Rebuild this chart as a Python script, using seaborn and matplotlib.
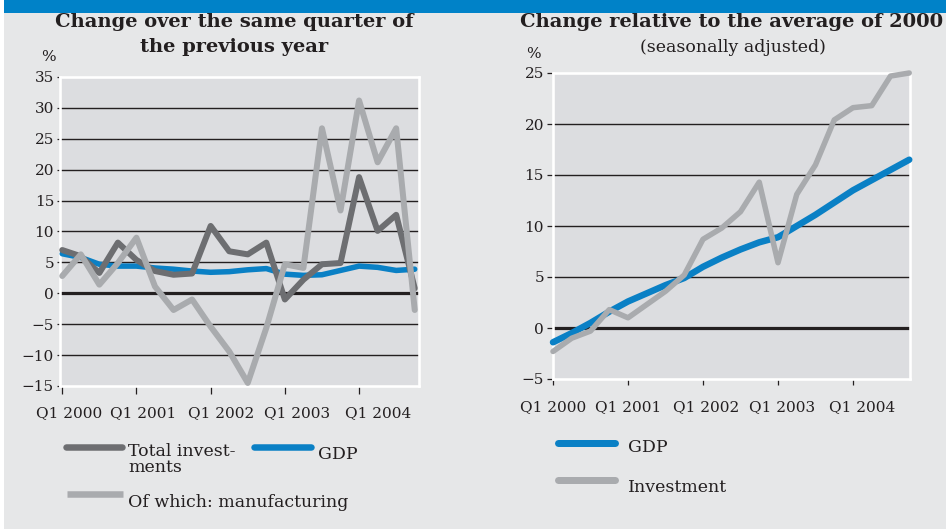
import numpy as np
import pandas as pd
import matplotlib
matplotlib.use("Agg")
import matplotlib.pyplot as plt
import matplotlib.transforms as mtransforms
from matplotlib.lines import Line2D
from matplotlib.patches import Rectangle
import seaborn as sns

# ---- data -------------------------------------------------------------
quarters = list(range(20))          # Q1 2000 ... Q4 2004
year_ticks = [0, 4, 8, 12, 16]
year_labels = ["Q1 2000", "Q1 2001", "Q1 2002", "Q1 2003", "Q1 2004"]

# year-on-year change, %
total_investments = [7.0, 6.0, 3.3, 8.2, 5.4, 3.6, 3.0, 3.2, 10.9, 6.8, 6.3, 8.2,
                     -1.0, 2.2, 4.7, 4.9, 18.8, 10.1, 12.7, 0.8]
manufacturing = [2.8, 6.3, 1.4, 4.9, 9.0, 1.1, -2.7, -1.0, -5.4, -9.4, -14.5, -5.6,
                 4.7, 4.1, 26.7, 13.4, 31.2, 21.2, 26.7, -2.7]
gdp_yoy = [6.4, 5.8, 4.7, 4.4, 4.4, 4.1, 3.9, 3.6, 3.4, 3.5, 3.8, 4.0,
           3.1, 2.9, 3.0, 3.7, 4.4, 4.2, 3.7, 3.9]

# change relative to the 2000 average, seasonally adjusted, %
gdp_level = [-1.4, -0.5, 0.5, 1.6, 2.6, 3.4, 4.2, 4.9, 6.0, 6.9, 7.7, 8.4,
             8.9, 10.0, 11.1, 12.3, 13.5, 14.5, 15.5, 16.5]
investment_level = [-2.3, -1.0, -0.3, 1.8, 1.0, 2.3, 3.6, 5.2, 8.7, 9.8, 11.4, 14.3,
                    6.4, 13.1, 16.0, 20.4, 21.6, 21.8, 24.7, 25.0]

left_yticks = list(range(-15, 40, 5))
right_yticks = list(range(-5, 30, 5))

# ---- style ------------------------------------------------------------
sns.set_theme(style="white")
plt.rcParams["font.family"] = ["DejaVu Serif"]
plt.rcParams["axes.unicode_minus"] = True

BG = "#e6e7e8"
PANEL = "#dcdde0"
BLUE = "#0a80c5"
DARK = "#6d6e71"
LIGHT = "#a9abae"
INK = "#231f20"

W, H = 946, 529
fig = plt.figure(figsize=(W / 100, H / 100), dpi=100, facecolor=BG)


def fx(px):
    return px / W


def fy(py):
    return 1 - py / H


def px2pt(p):
    return p * 72 / 100


def fmt(v):
    return f"{v}".replace("-", "\u2212")


# top band and left strip
fig.add_artist(Rectangle((fx(4), fy(12.5)), 1, 12.5 / H, transform=fig.transFigure,
                         facecolor="#0082c8", edgecolor="none", zorder=0))
fig.add_artist(Rectangle((0, 0), fx(4), 1, transform=fig.transFigure,
                         facecolor="white", edgecolor="none", zorder=0))


def style_axes(ax, yticks, ylim, xlim, ytick_len, xtick_len, xpad, label_shift):
    ax.set_facecolor(PANEL)
    ax.set_xlim(*xlim)
    ax.set_ylim(*ylim)
    for s in ax.spines.values():
        s.set_color("white")
        s.set_linewidth(px2pt(2.6))
    ax.set_yticks(yticks)
    ax.set_yticklabels([fmt(v) for v in yticks])
    ax.set_xticks(year_ticks)
    ax.set_xticklabels(year_labels)
    ax.tick_params(axis="y", length=px2pt(ytick_len), width=0.9, color=INK,
                   labelsize=11, labelcolor=INK, pad=px2pt(3), left=True)
    ax.tick_params(axis="x", length=px2pt(xtick_len), width=0.9, color=INK,
                   labelsize=11, labelcolor=INK, pad=px2pt(xpad), bottom=True)
    for lab, dx in zip(ax.get_xticklabels(), label_shift):
        lab.set_transform(lab.get_transform() +
                          mtransforms.ScaledTranslation(dx / 100, 0, fig.dpi_scale_trans))
    ax.set_xlabel("")
    ax.set_ylabel("")
    for v in yticks:
        if v in (ylim[0], ylim[1]):
            continue
        ax.axhline(v, color=INK, lw=px2pt(3.2) if v == 0 else px2pt(1.4), zorder=1)


# ---- left panel -------------------------------------------------------
ax1 = fig.add_axes([fx(60), fy(386), (419 - 60) / W, (386 - 77) / H])
left_df = pd.DataFrame({"quarter": quarters, "GDP": gdp_yoy,
                        "Total investments": total_investments,
                        "Of which: manufacturing": manufacturing})
for name, col, lw in [("GDP", BLUE, 5.5), ("Total investments", DARK, 6.0),
                      ("Of which: manufacturing", LIGHT, 6.0)]:
    sns.lineplot(data=left_df, x="quarter", y=name, ax=ax1, color=col,
                 linewidth=px2pt(lw), zorder=3, clip_on=False)
style_axes(ax1, left_yticks, (-15, 35), (-0.12, 19.23), 3, 8, 12,
           [7, 7, 10, 12, 19])

# ---- right panel ------------------------------------------------------
ax2 = fig.add_axes([fx(553), fy(379), (910 - 553) / W, (379 - 73) / H])
right_df = pd.DataFrame({"quarter": quarters, "GDP": gdp_level,
                         "Investment": investment_level})
for name, col, lw in [("GDP", BLUE, 6.5), ("Investment", LIGHT, 5.5)]:
    sns.lineplot(data=right_df, x="quarter", y=name, ax=ax2, color=col,
                 linewidth=px2pt(lw), zorder=3, clip_on=False)
style_axes(ax2, right_yticks, (-5, 25), (0, 19.04), 6, 6, 15,
           [0, 0, 3, 4, 9])

# ---- titles -----------------------------------------------------------
TITLE = 14
fig.text(fx(234), fy(22), "Change over the same quarter of", ha="center", va="center",
         fontsize=TITLE, fontweight="bold", color=INK)
fig.text(fx(234), fy(47), "the previous year", ha="center", va="center",
         fontsize=TITLE, fontweight="bold", color=INK)
fig.text(fx(732), fy(22), "Change relative to the average of 2000", ha="center",
         va="center", fontsize=TITLE, fontweight="bold", color=INK)
fig.text(fx(733), fy(47), "(seasonally adjusted)", ha="center", va="center",
         fontsize=12.5, color=INK)
fig.text(fx(48), fy(57), "%", ha="center", va="center", fontsize=11, color=INK)
fig.text(fx(533), fy(54), "%", ha="center", va="center", fontsize=11, color=INK)


# ---- legends ----------------------------------------------------------
def key(x0, x1, y, color, lw, cap="round"):
    fig.add_artist(Line2D([fx(x0), fx(x1)], [fy(y), fy(y)], transform=fig.transFigure,
                          color=color, lw=px2pt(lw), solid_capstyle=cap))


LEG = 12.5
key(66, 122, 447, DARK, 6.5)
fig.text(fx(128), fy(443), "Total invest-\nments", ha="left", va="top",
         fontsize=LEG, color=INK, linespacing=0.95)
key(254, 311, 447, BLUE, 6.5)
fig.text(fx(318), fy(459), "GDP", ha="left", va="baseline", fontsize=LEG, color=INK)
key(67, 123, 494, LIGHT, 6.5, cap="butt")
fig.text(fx(128), fy(507), "Of which: manufacturing", ha="left", va="baseline",
         fontsize=LEG, color=INK)

key(558, 615, 443, BLUE, 7)
fig.text(fx(628), fy(452), "GDP", ha="left", va="baseline", fontsize=LEG, color=INK)
key(558, 615, 480, LIGHT, 7)
fig.text(fx(628), fy(492), "Investment", ha="left", va="baseline", fontsize=LEG,
         color=INK)

fig.savefig("out.png", dpi=100, facecolor=BG)
